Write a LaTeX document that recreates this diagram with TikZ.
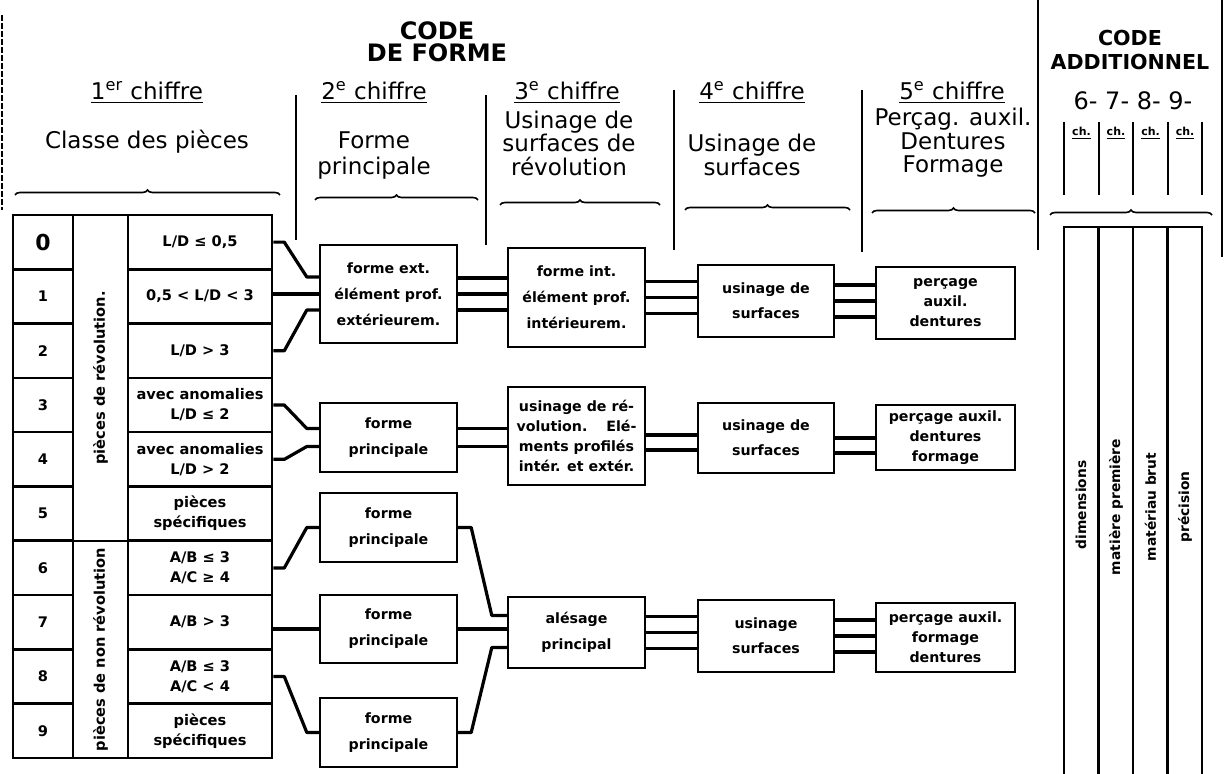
\documentclass[tikz,border=0pt]{standalone}
\usepackage{fontspec}
\setmainfont{DejaVu Sans}
\usetikzlibrary{calc,decorations.pathreplacing}

\tikzset{
  cell/.style={draw, line width=1.3pt, inner sep=0pt, align=center,
    font=\bfseries\fontsize{7.3}{10}\selectfont},
  box/.style={draw, line width=1.2pt, inner sep=0pt, align=center,
    font=\bfseries\fontsize{7.1}{13}\selectfont},
  tight/.style={font=\bfseries\fontsize{7.1}{10}\selectfont},
  link/.style={line width=1.6pt, line join=round},
  sep/.style={line width=0.6pt},
  bracket/.style={line width=0.8pt, decorate, decoration={brace, amplitude=2.5pt}},
  head/.style={align=center, font=\fontsize{11.5}{12}\selectfont},
  vlabel/.style={rotate=90, inner sep=0pt, font=\bfseries\fontsize{6.9}{8}\selectfont},
}

\begin{document}
\begin{tikzpicture}[x=0.5pt,y=0.5pt]
  \useasboundingbox (0,0) rectangle (1231,-774);

  % headings
  \node[head, font=\bfseries\fontsize{12}{11}\selectfont] (cforme) at (437,-42) {CODE\\DE FORME};
  \node[head, font=\bfseries\fontsize{10.3}{12}\selectfont] (cadd) at (1130,-50) {CODE\\ADDITIONNEL};
  \node[head] (h1) at (147,-93) {\underline{1\textsuperscript{er} chiffre}};
  \node[head] (h2) at (374,-93) {\underline{2\textsuperscript{e} chiffre}};
  \node[head] (h3) at (567,-93) {\underline{3\textsuperscript{e} chiffre}};
  \node[head] (h4) at (752,-93) {\underline{4\textsuperscript{e} chiffre}};
  \node[head] (h5) at (952,-93) {\underline{5\textsuperscript{e} chiffre}};
  \node[head] (t1) at (147,-142) {Classe des pièces};
  \node[head, font=\fontsize{11.5}{13}\selectfont] (t2) at (374,-156) {Forme\\principale};
  \node[head, font=\fontsize{11.5}{11.75}\selectfont] (t3) at (569,-143) {Usinage de\\surfaces de\\révolution};
  \node[head] (t4) at (752,-155) {Usinage de\\surfaces};
  \node[head, font=\fontsize{11.5}{11.75}\selectfont] (t5) at (953,-143) {Perçag. auxil.\\Dentures\\Formage};
  \node[head, font=\fontsize{12}{12}\selectfont] (t6) at (1133,-101) {6- 7- 8- 9-};

  \foreach \x/\n in {1081.5/1,1116/2,1150.5/3,1185/4}
    \node[font=\bfseries\fontsize{5.5}{6}\selectfont] (ch\n) at (\x,-133) {\underline{ch.}};
  \foreach \x in {1064,1099,1133,1168,1202}
    \draw[sep] (\x,-122) -- (\x,-195);

  % column separators
  \draw[sep] (296,-95) -- (296,-240);
  \draw[sep] (486,-95) -- (486,-245);
  \draw[sep] (674,-90) -- (674,-250);
  \draw[sep] (862,-90) -- (862,-252);
  \draw[sep] (1038,0) -- (1038,-250);
  \draw[sep] (1222,0) -- (1222,-257);
  \draw[sep, dashed, dash pattern=on 3pt off 1pt] (2,-15) -- (2,-210);

  \draw[bracket] (15,-195) -- (280,-195);
  \draw[bracket] (315,-200) -- (478,-200);
  \draw[bracket] (500,-205) -- (660,-205);
  \draw[bracket] (685,-210) -- (850,-210);
  \draw[bracket] (872,-213) -- (1035,-213);
  \draw[bracket] (1050,-215) -- (1212,-215);

  % 1st digit: classes
  \foreach \i/\txt in {0/{L/D ≤ 0,5}, 1/{0,5 < L/D < 3}, 2/{L/D > 3},
      3/{avec anomalies\\L/D ≤ 2}, 4/{avec anomalies\\L/D > 2},
      5/{pièces\\spécifiques}, 6/{A/B ≤ 3\\A/C ≥ 4}, 7/{A/B > 3},
      8/{A/B ≤ 3\\A/C < 4}, 9/{pièces\\spécifiques}}{
    \node[cell, minimum width=30pt, minimum height=27.15pt] (d\i) at (43,{-242.15-54.3*\i})
      {\ifnum\i=0 {\fontsize{11}{11}\selectfont 0}\else\i\fi};
    \node[cell, minimum width=72pt, minimum height=27.15pt] (c\i) at (200,{-242.15-54.3*\i}) {\txt};
  }
  \node[cell, rotate=90, minimum width=163pt, minimum height=27.5pt] (grev) at (100.5,-378)
    {pièces de révolution.};
  \node[cell, rotate=90, minimum width=108.5pt, minimum height=27.5pt] (gnon) at (100.5,-649.5)
    {pièces de non révolution};

  % 2nd digit
  \node[box, minimum width=68.5pt, minimum height=49pt] (fA) at (388.5,-294) {forme ext.\\élément prof.\\extérieurem.};
  \node[box, minimum width=68.5pt, minimum height=34.5pt] (fB) at (388.5,-437.5) {forme\\principale};
  \node[box, minimum width=68.5pt, minimum height=34.5pt] (fC) at (388.5,-527.5) {forme\\principale};
  \node[box, minimum width=68.5pt, minimum height=34pt] (fD) at (388.5,-629) {forme\\principale};
  \node[box, minimum width=68.5pt, minimum height=34.5pt] (fE) at (388.5,-732.5) {forme\\principale};

  % 3rd digit
  \node[box, minimum width=68.5pt, minimum height=49.5pt] (uA) at (576.5,-297.5) {forme int.\\élément prof.\\intérieurem.};
  \node[box, tight, minimum width=68.5pt, minimum height=49pt] (uB) at (576.5,-436)
    {usinage de ré-\\\makebox[60pt][s]{volution. Elé-}\\ments profilés\\intér. et extér.};
  \node[box, minimum width=68.5pt, minimum height=35.5pt] (uC) at (576.5,-632.5) {alésage\\principal};

  % 4th digit
  \node[box, font=\bfseries\fontsize{7.1}{12.5}\selectfont, minimum width=68pt, minimum height=36pt] (sA) at (766,-301) {usinage de\\surfaces};
  \node[box, font=\bfseries\fontsize{7.1}{12.5}\selectfont, minimum width=68pt, minimum height=35pt] (sB) at (766,-438) {usinage de\\surfaces};
  \node[box, font=\bfseries\fontsize{7.1}{12.5}\selectfont, minimum width=68pt, minimum height=36pt] (sC) at (766,-636) {usinage\\surfaces};

  % 5th digit
  \node[box, tight, minimum width=69.5pt, minimum height=36pt] (pA) at (945.5,-303) {perçage\\auxil.\\dentures};
  \node[box, tight, minimum width=69.5pt, minimum height=32.5pt] (pB) at (945.5,-437.5) {perçage auxil.\\dentures\\formage};
  \node[box, tight, minimum width=69.5pt, minimum height=34.5pt] (pC) at (945.5,-637.5) {perçage auxil.\\formage\\dentures};

  % additional code
  \draw[line width=1.3pt] (1064,-774) -- (1064,-227) -- (1202,-227) -- (1202,-774);
  \foreach \x in {1098.5,1133,1167.5}
    \draw[line width=1.3pt] (\x,-227) -- (\x,-774);
  \node[vlabel] (kdim) at (1081,-505) {dimensions};
  \node[vlabel] (kmat) at (1116,-507) {matière première};
  \node[vlabel] (kbrut) at (1150.5,-507) {matériau brut};
  \node[vlabel] (kprec) at (1185,-507) {précision};

  % connections
  \draw[link] (c0.east) -- ++(11,0) -- ([xshift=-6pt,yshift=8.5pt]fA.west) -- ([yshift=8.5pt]fA.west);
  \draw[link] (c1.east |- fA.west) -- (fA.west);
  \draw[link] (c2.east) -- ++(11,0) -- ([xshift=-6pt,yshift=-8pt]fA.west) -- ([yshift=-8pt]fA.west);
  \foreach \s in {8,0,-8}{
    \draw[link] ([yshift=\s pt]fA.east) -- ([yshift=\s pt]fA.east -| uA.west);
    \draw[link] ([yshift=\s pt]uA.east) -- ([yshift=\s pt]uA.east -| sA.west);
    \draw[link] ([yshift=\s pt]sA.east) -- ([yshift=\s pt]sA.east -| pA.west);
  }

  \draw[link] (c3.east) -- ++(11,0) -- ([xshift=-6pt,yshift=4.5pt]fB.west) -- ([yshift=4.5pt]fB.west);
  \draw[link] (c4.east) -- ++(11,0) -- ([xshift=-6pt,yshift=-4.5pt]fB.west) -- ([yshift=-4.5pt]fB.west);
  \foreach \s in {4.5,-4.5}
    \draw[link] ([yshift=\s pt]fB.east) -- ([yshift=\s pt]fB.east -| uB.west);
  \foreach \s in {0.5,-7}
    \draw[link] ([yshift=\s pt]uB.east) -- ([yshift=\s pt]uB.east -| sB.west);
  \foreach \s in {0,-7.5}
    \draw[link] ([yshift=\s pt]sB.east) -- ([yshift=\s pt]sB.east -| pB.west);

  \draw[link] (c6.east) -- ++(11,0) -- ([xshift=-6pt]fC.west) -- (fC.west);
  \draw[link] (c7.east |- fD.west) -- (fD.west);
  \draw[link] (c8.east) -- ++(11,0) -- ([xshift=-6pt]fE.west) -- (fE.west);
  \draw[link] (fC.east) -- ++(13,0) -- ([xshift=-7.5pt,yshift=8.5pt]uC.west) -- ([yshift=8.5pt]uC.west);
  \draw[link] (fD.east) -- (fD.east -| uC.west);
  \draw[link] (fE.east) -- ++(13,0) -- ([xshift=-7.5pt,yshift=-7.5pt]uC.west) -- ([yshift=-7.5pt]uC.west);
  \foreach \s in {8,0,-8}{
    \draw[link] ([yshift=\s pt]uC.east) -- ([yshift=\s pt]uC.east -| sC.west);
    \draw[link] ([yshift=\s pt]sC.east) -- ([yshift=\s pt]sC.east -| pC.west);
  }
\end{tikzpicture}
\end{document}
